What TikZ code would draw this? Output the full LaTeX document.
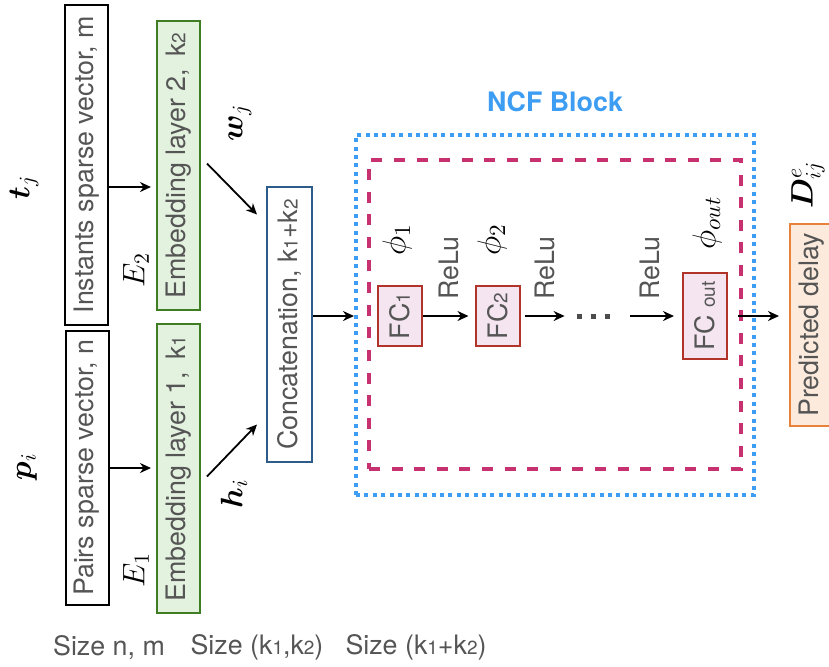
\documentclass[tikz,border=0pt]{standalone}
\usepackage{fix-cm}
\usepackage{amsmath,bm}
\usepackage{fontspec}
\setmainfont{TeX Gyre Heros}
\usetikzlibrary{arrows.meta}
\definecolor{txtgray}{HTML}{555555}
\definecolor{embgreen}{HTML}{3E7D22}
\definecolor{embfill}{HTML}{E3F2DF}
\definecolor{catblue}{HTML}{2E5C8A}
\definecolor{fcred}{HTML}{B0342A}
\definecolor{fcfill}{HTML}{F4E5F0}
\definecolor{predorange}{HTML}{E8823A}
\definecolor{predfill}{HTML}{FCEBDD}
\definecolor{ncfblue}{HTML}{3D9DF2}
\definecolor{ncfpink}{HTML}{C8316F}
\newcommand{\lo}[1]{{\fontsize{9.5}{10}\selectfont #1}}

\begin{document}
\begin{tikzpicture}[x=0.5pt,y=-0.5pt,
    every node/.style={font=\fontsize{13.4}{15}\selectfont, text=txtgray},
    vecbox/.style={draw=black, line width=1pt, rotate=90, minimum height=21.5pt, inner sep=0pt},
    embbox/.style={draw=embgreen, fill=embfill, line width=1pt, rotate=90, minimum height=21.5pt, minimum width=144.5pt, inner sep=0pt},
    fcbox/.style={draw=fcred, fill=fcfill, line width=1pt, rotate=90, minimum height=22pt, minimum width=30pt, inner sep=0pt},
    mathlbl/.style={text=black, rotate=90, inner sep=0pt, font=\fontsize{15.5}{17}\selectfont},
    philbl/.style={mathlbl, font=\fontsize{16.5}{18}\selectfont},
    relu/.style={rotate=90, inner sep=0pt, font=\fontsize{13.4}{15}\selectfont},
    arr/.style={-{Stealth[length=5.5pt,width=5pt]}, line width=0.9pt},
  ]
  \useasboundingbox (0,0) rectangle (829,666);
  \def\ty{187}
  \def\fy{316}

  % inputs and embeddings
  \node[vecbox, minimum width=160pt] (inst) at (86.5,165) {Instants sparse vector, m};
  \node[vecbox, minimum width=137pt] (pairs) at (87,468) {Pairs sparse vector, n};
  \node[embbox] (emb2) at (178.5,165.5) {Embedding layer 2,\, k\lo{2}};
  \node[embbox] (emb1) at (178.5,468.5) {Embedding layer 1,\, k\lo{1}};
  \node[draw=catblue, line width=1pt, rotate=90, minimum width=137.5pt, minimum height=22.5pt, inner sep=0pt] (concat) at (289.5,324.5) {Concatenation, k\lo{1}+k\lo{2}};

  \node[mathlbl] (tj) at (24,187) {$\bm{t}_j$};
  \node[mathlbl] (pi) at (27,467) {$\bm{p}_i$};
  \node[mathlbl] (e2) at (136,270) {$E_2$};
  \node[mathlbl] (e1) at (136,570) {$E_1$};
  \node[mathlbl] (wj) at (240,123) {$\bm{w}_j$};
  \node[mathlbl] (hi) at (234,494) {$\bm{h}_i$};

  \draw[arr] (inst.south |- 0,\ty) -- ([xshift=-2.5pt]emb2.north |- 0,\ty);
  \draw[arr] (pairs.south |- 0,468) -- ([xshift=-2.5pt]emb1.north |- 0,468);
  \draw[arr] ([shift={(6,-2)}]emb2.south) -- ([shift={(-9,-110)}]concat.north);
  \draw[arr] ([shift={(6,8)}]emb1.south) -- ([shift={(-9,100)}]concat.north);

  % NCF block
  \node[font=\fontsize{13.4}{15}\selectfont\bfseries, text=ncfblue] (ncflbl) at (555,102) {NCF Block};
  \node[draw=ncfblue, line width=2pt, dash pattern=on 2pt off 2.2pt, minimum width=199pt, minimum height=180pt] (ncf) at (555,315) {};
  \node[draw=ncfpink, line width=2pt, dash pattern=on 5.5pt off 5.8pt, minimum width=186pt, minimum height=154.5pt] (mlp) at (555,314.5) {};

  \node[fcbox] (fc1) at (400,\fy) {FC\lo{1}};
  \node[fcbox] (fc2) at (497.5,\fy) {FC\lo{2}};
  \node[fcbox, minimum width=43pt] (fcout) at (705,\fy) {FC \lo{out}};
  \node[minimum width=16.5pt, inner sep=0pt] (dots) at (593.5,\fy) {};
  \draw[black!70, line width=2.5pt, dash pattern=on 2.5pt off 4.5pt] (dots.west) -- (dots.east);

  \node[philbl] (phi1) at (397,240) {$\phi_1$};
  \node[philbl] (phi2) at (492,240) {$\phi_2$};
  \node[philbl] (phiout) at (707,223) {$\phi_{out}$};
  \foreach \x/\n in {449/r1, 545/r2, 650/r3} {
    \node[relu] (\n) at (\x,268) {ReLu};
  }

  \draw[arr] (concat.south |- fc1) -- (ncf.west |- fc1);
  \draw[arr] (fc1.south) -- ([xshift=-3pt]fc2.north);
  \draw[arr, shorten <=2pt] (fc2.south) -- ([xshift=-6pt]dots.west);
  \draw[arr, shorten <=10pt] (dots.east) -- ([xshift=-4pt]fcout.north);

  % output
  \node[draw=predorange, fill=predfill, line width=1pt, rotate=90, minimum width=101pt, minimum height=22pt, inner sep=0pt] (pred) at (812,325) {Predicted delay};
  \node[mathlbl] (dij) at (808,185) {$\bm{D}^e_{ij}$};
  \draw[arr, shorten <=5pt] (fcout.south) -- ([xshift=-5pt]pred.north |- fcout);

  % sizes
  \node (s1) at (109,647) {Size n, m};
  \node (s2) at (257,647) {Size (k\lo{1},k\lo{2})};
  \node (s3) at (416,647) {Size (k\lo{1}+k\lo{2})};
\end{tikzpicture}
\end{document}
